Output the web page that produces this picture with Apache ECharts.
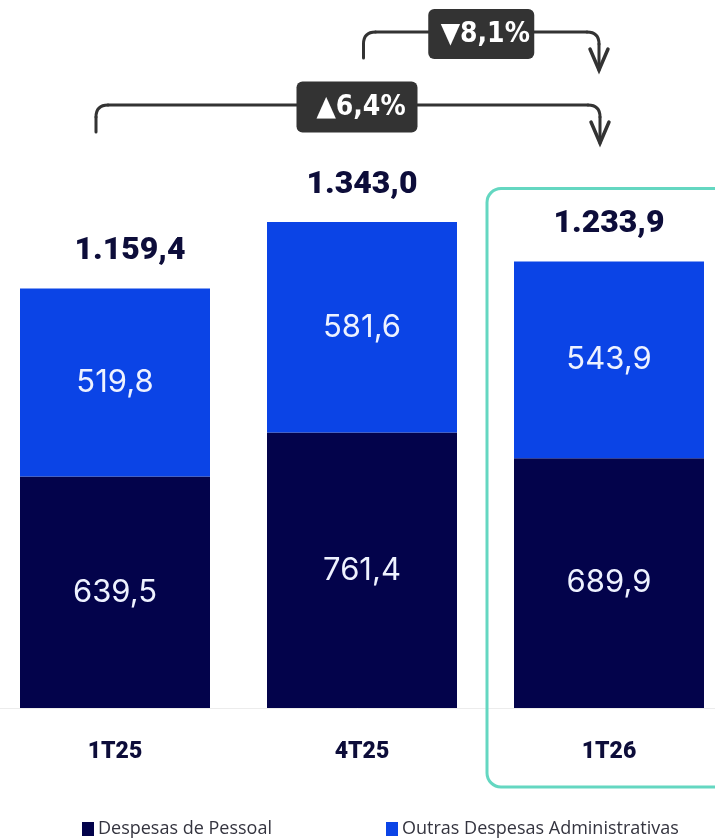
<!DOCTYPE html>
<html>
<head>
<meta charset="utf-8">
<title>Despesas</title>
<script src="https://cdn.jsdelivr.net/npm/echarts@6/dist/echarts.min.js"></script>
<style>
  html, body { margin: 0; padding: 0; background: #ffffff; }
  #chart { width: 715px; height: 839px; }
</style>
</head>
<body>
<div id="chart"></div>
<script>
// Quarters and expense values (R$ milhões)
const categories = ['1T25', '4T25', '1T26'];
const pessoal = [639.5, 761.4, 689.9];
const outras = [519.8, 581.6, 543.9];
const totals = [1159.4, 1343.0, 1233.9];
const seriesNames = ['Despesas de Pessoal', 'Outras Despesas Administrativas'];
// Variation callouts: [from index, to index, text]
const variations = [
  [1, 2, '\u25BC8,1%'],
  [0, 2, '\u25B26,4%']
];

const DARK = '#03034b';
const BLUE = '#0b44e6';
const INK = '#0d0d3a';

function fmt(v) {
  const parts = v.toFixed(1).split('.');
  const int = parts[0].replace(/\B(?=(\d{3})+(?!\d))/g, '.');
  return int + ',' + parts[1];
}

const chart = echarts.init(document.getElementById('chart'), null, { renderer: 'canvas' });

const segLabel = {
  show: true,
  position: 'inside',
  color: '#eef2ff',
  fontFamily: 'Inter, Roboto, sans-serif',
  fontSize: 31,
  fontWeight: 400,
  formatter: p => fmt(p.value)
};

const legendText = { fontFamily: '"Open Sans", sans-serif', fontSize: 18, color: '#34343f', padding: [0, 0, 0, -1] };

// first total label sits slightly right of its bar
const totalData = totals.map((v, i) => (i === 0 ? { value: v, label: { offset: [15, 0] } } : v));

chart.setOption({
  animation: false,
  backgroundColor: '#ffffff',
  grid: { left: -8.5, right: -17.5, top: 129, bottom: 131, outerBoundsMode: 'none', containLabel: false },
  legend: [
    {
      data: [seriesNames[0]], left: 77, top: 815,
      icon: 'rect', itemWidth: 12, itemHeight: 14, itemGap: 0, textStyle: legendText
    },
    {
      data: [seriesNames[1]], left: 381, top: 815,
      icon: 'rect', itemWidth: 12, itemHeight: 14, itemGap: 0, textStyle: legendText
    }
  ],
  xAxis: {
    type: 'category',
    data: categories,
    axisLine: { show: true, lineStyle: { color: '#ececec', width: 1 } },
    axisTick: { show: false },
    axisLabel: {
      margin: 33,
      color: INK,
      fontFamily: 'Roboto, sans-serif',
      fontWeight: 900,
      fontSize: 23
    }
  },
  yAxis: {
    type: 'value', min: 0, max: 1600,
    show: false, splitLine: { show: false }
  },
  series: [
    {
      name: seriesNames[0], type: 'bar', stack: 'total', barWidth: 190,
      itemStyle: { color: DARK }, label: segLabel, data: pessoal
    },
    {
      name: seriesNames[1], type: 'bar', stack: 'total', barWidth: 190,
      itemStyle: { color: BLUE }, label: segLabel, data: outras
    },
    {
      name: 'Total', type: 'scatter', symbolSize: 0, silent: true,
      itemStyle: { opacity: 1, color: INK },
      data: totalData,
      label: {
        show: true, position: 'top', distance: 21,
        color: INK, fontFamily: 'Roboto, sans-serif', fontWeight: 900, fontSize: 32,
        formatter: p => fmt(p.value)
      }
    }
  ]
});

// Callout brackets, boxes and highlight frame, placed from the axis pixels
function drawOverlay() {
  const cx = categories.map((_, i) => chart.convertToPixel({ xAxisIndex: 0 }, i));
  const yBase = chart.convertToPixel({ yAxisIndex: 0 }, 0);
  const yTop3 = chart.convertToPixel({ yAxisIndex: 0 }, totals[2]);
  const els = [];
  const stroke = { fill: null, stroke: '#333333', lineWidth: 3, lineCap: 'round' };

  // highlight frame round the last quarter
  els.push({
    type: 'rect', z: 1,
    shape: { x: cx[2] - 122, y: yTop3 - 73, width: 300, height: yBase - yTop3 + 152, r: 14 },
    style: { fill: null, stroke: '#64d7c1', lineWidth: 3 }
  });

  const rows = [
    { y: 32, x1: cx[variations[0][0]] + 1.5, x2: cx[variations[0][1]] - 10, drop: 26, tip: 70, boxW: 106, boxH: 50, boxDx: 0 },
    { y: 105, x1: cx[variations[1][0]] - 19, x2: cx[variations[1][1]] - 9, drop: 27, tip: 143, boxW: 121, boxH: 51, boxDx: 9 }
  ];
  rows.forEach((r, i) => {
    const rad = 12;
    els.push({ type: 'line', z: 10, shape: { x1: r.x1, y1: r.y + r.drop, x2: r.x1, y2: r.y + rad }, style: stroke });
    els.push({ type: 'bezierCurve', z: 10, shape: { x1: r.x1, y1: r.y + rad, cpx1: r.x1, cpy1: r.y, x2: r.x1 + rad, y2: r.y }, style: stroke });
    els.push({ type: 'line', z: 10, shape: { x1: r.x1 + rad, y1: r.y, x2: r.x2 - rad, y2: r.y }, style: stroke });
    els.push({ type: 'bezierCurve', z: 10, shape: { x1: r.x2 - rad, y1: r.y, cpx1: r.x2, cpy1: r.y, x2: r.x2, y2: r.y + rad }, style: stroke });
    els.push({ type: 'line', z: 10, shape: { x1: r.x2, y1: r.y + rad, x2: r.x2, y2: r.tip }, style: stroke });
    els.push({
      type: 'polyline', z: 10,
      shape: { points: [[r.x2 - 9, r.tip - 21], [r.x2, r.tip], [r.x2 + 9, r.tip - 21]] },
      style: { fill: null, stroke: '#333333', lineWidth: 3.5, lineCap: 'round', lineJoin: 'miter' }
    });
    const bx = (r.x1 + r.x2) / 2 + r.boxDx;
    els.push({
      type: 'rect', z: 11,
      shape: { x: bx - r.boxW / 2, y: r.y + 2 - r.boxH / 2, width: r.boxW, height: r.boxH, r: 6 },
      style: { fill: '#333333' }
    });
    els.push({
      type: 'text', z: 12,
      x: bx + 4, y: r.y + 3,
      style: {
        text: variations[i][2], fill: '#ffffff',
        font: 'bold 28px "DejaVu Sans Condensed", "Liberation Sans Narrow", sans-serif',
        align: 'center', verticalAlign: 'middle'
      }
    });
  });

  chart.setOption({ graphic: { elements: els } });
}
drawOverlay();
</script>
</body>
</html>
